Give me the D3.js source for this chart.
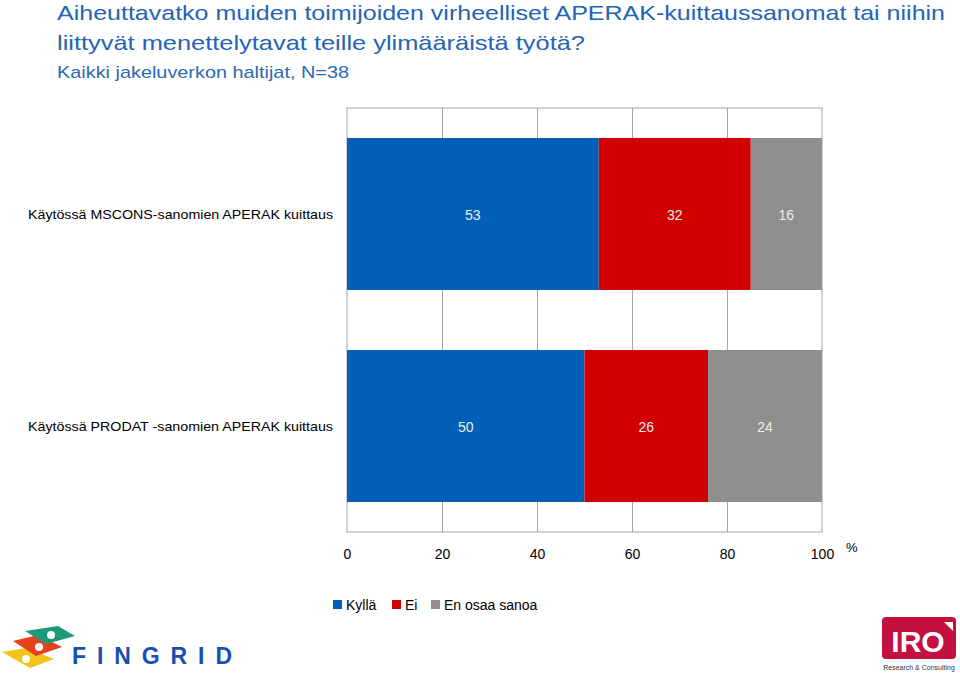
<!DOCTYPE html>
<html><head><meta charset="utf-8">
<script src="https://cdn.jsdelivr.net/npm/d3@7"></script>
<style>body{margin:0;background:#fff}svg{display:block}text{font-family:"Liberation Sans",Arial,sans-serif}</style>
</head><body><svg id="c" width="960" height="677"></svg>
<script>
const categories = ["Käytössä MSCONS-sanomien APERAK kuittaus", "Käytössä PRODAT -sanomien APERAK kuittaus"];
const seriesNames = ["Kyllä", "Ei", "En osaa sanoa"];
const kylla = [53, 50];
const ei = [32, 26];
const eos = [16, 24];
const tickValues = [0, 20, 40, 60, 80, 100];
const colors = ["#0060b8", "#d10000", "#8f8f8f"];
const titleLines = ["Aiheuttavatko muiden toimijoiden virheelliset APERAK-kuittaussanomat tai niihin", "liittyvät menettelytavat teille ylimääräistä työtä?"];
const subtitle = "Kaikki jakeluverkon haltijat, N=38";

const svg = d3.select("#c");
const L = 347, R = 822, T = 108, B = 532;
const x = d3.scaleLinear().domain([0, 100]).range([L, R]);
const y = d3.scaleBand().domain(categories).range([T, B]).paddingInner(0.283).paddingOuter(0.1415);

// title
const tc = "#2364b4";
svg.append("text").attr("x", 57).attr("y", 20).attr("font-size", 21).attr("fill", tc)
  .attr("textLength", 888).attr("lengthAdjust", "spacingAndGlyphs").text(titleLines[0]);
svg.append("text").attr("x", 57).attr("y", 50).attr("font-size", 21).attr("fill", tc)
  .attr("textLength", 528).attr("lengthAdjust", "spacingAndGlyphs").text(titleLines[1]);
svg.append("text").attr("x", 57).attr("y", 78).attr("font-size", 17).attr("fill", "#2c6ab2")
  .attr("textLength", 292).attr("lengthAdjust", "spacingAndGlyphs").text(subtitle);

// plot frame and grid
svg.append("rect").attr("x", L).attr("y", T).attr("width", R - L).attr("height", B - T)
  .attr("fill", "none").attr("stroke", "#a6a6a6").attr("stroke-width", 1);
svg.append("g").selectAll("line").data(tickValues.slice(1, -1)).join("line")
  .attr("x1", d => x(d) + 0.5).attr("x2", d => x(d) + 0.5).attr("y1", T).attr("y2", B)
  .attr("stroke", "#a6a6a6").attr("stroke-width", 1);

// stacked bars
const data = categories.map((c, i) => ({cat: c, vals: [kylla[i], ei[i], eos[i]]}));
data.forEach(d => {
  let acc = 0;
  d.vals.forEach((v, j) => {
    const x0 = Math.min(acc, 100), x1 = Math.min(acc + v, 100);
    svg.append("rect").attr("x", x(x0)).attr("y", y(d.cat)).attr("width", x(x1) - x(x0))
      .attr("height", y.bandwidth()).attr("fill", colors[j]);
    svg.append("text").attr("x", (x(x0) + x(x1)) / 2).attr("y", y(d.cat) + y.bandwidth() / 2 + 6)
      .attr("text-anchor", "middle").attr("font-size", 14).attr("fill", "#eeeeee").text(v);
    acc += v;
  });
});

// category labels
svg.append("g").selectAll("text").data(categories).join("text")
  .attr("x", 333).attr("y", d => y(d) + y.bandwidth() / 2 + 5)
  .attr("text-anchor", "end").attr("font-size", 13).attr("fill", "#000")
  .attr("textLength", 305).attr("lengthAdjust", "spacingAndGlyphs").text(d => d);

// x axis labels
const ax = svg.append("g").attr("transform", `translate(0,${B})`)
  .call(d3.axisBottom(x).tickValues(tickValues).tickSize(0).tickPadding(17));
ax.select(".domain").remove();
ax.selectAll("text").attr("font-size", 14).attr("fill", "#000").attr("font-family", "Liberation Sans, Arial, sans-serif");
svg.append("text").attr("x", 846).attr("y", 552).attr("font-size", 13).attr("fill", "#000").text("%");

// legend
const lx = [333, 392, 431];
seriesNames.forEach((n, i) => {
  svg.append("rect").attr("x", lx[i]).attr("y", 600).attr("width", 9).attr("height", 9).attr("fill", colors[i]);
  svg.append("text").attr("x", lx[i] + 13).attr("y", 610).attr("font-size", 14).attr("fill", "#000").text(n);
});

// Fingrid logo
const fg = svg.append("g");
function kite(pts, color, dot) {
  fg.append("path").attr("d", "M" + pts.map(p => p.join(",")).join(" L") + " Z").attr("fill", color);
  fg.append("circle").attr("cx", dot[0]).attr("cy", dot[1]).attr("r", 4).attr("fill", "#fff");
}
kite([[2,652],[26,648],[54,659],[30,668]], "#f2c318", [26,659]);
kite([[13,641],[38,635],[62,647],[36,656]], "#e4411c", [39,647]);
kite([[25,631],[58,626],[75,636],[46,644]], "#1f9a78", [51,635]);
fg.append("text").attr("x", 72).attr("y", 664).attr("font-size", 23).attr("font-weight", "bold")
  .attr("fill", "#1a50b0").attr("textLength", 160).attr("lengthAdjust", "spacing")
  .attr("font-family", "DejaVu Sans, sans-serif").text("FINGRID");

// IRO logo
const ig = svg.append("g");
ig.append("rect").attr("x", 882).attr("y", 617).attr("width", 74).attr("height", 42).attr("rx", 4).attr("fill", "#c4103f");
ig.append("text").attr("x", 918).attr("y", 652).attr("text-anchor", "middle").attr("font-size", 30)
  .attr("font-weight", "bold").attr("fill", "#fff").text("IRO");
ig.append("path").attr("d", "M944,622 L953,622 L953,631 Z").attr("fill", "#fff");
ig.append("text").attr("x", 919).attr("y", 670).attr("text-anchor", "middle").attr("font-size", 7)
  .attr("fill", "#333").text("Research & Consulting");
</script></body></html>
